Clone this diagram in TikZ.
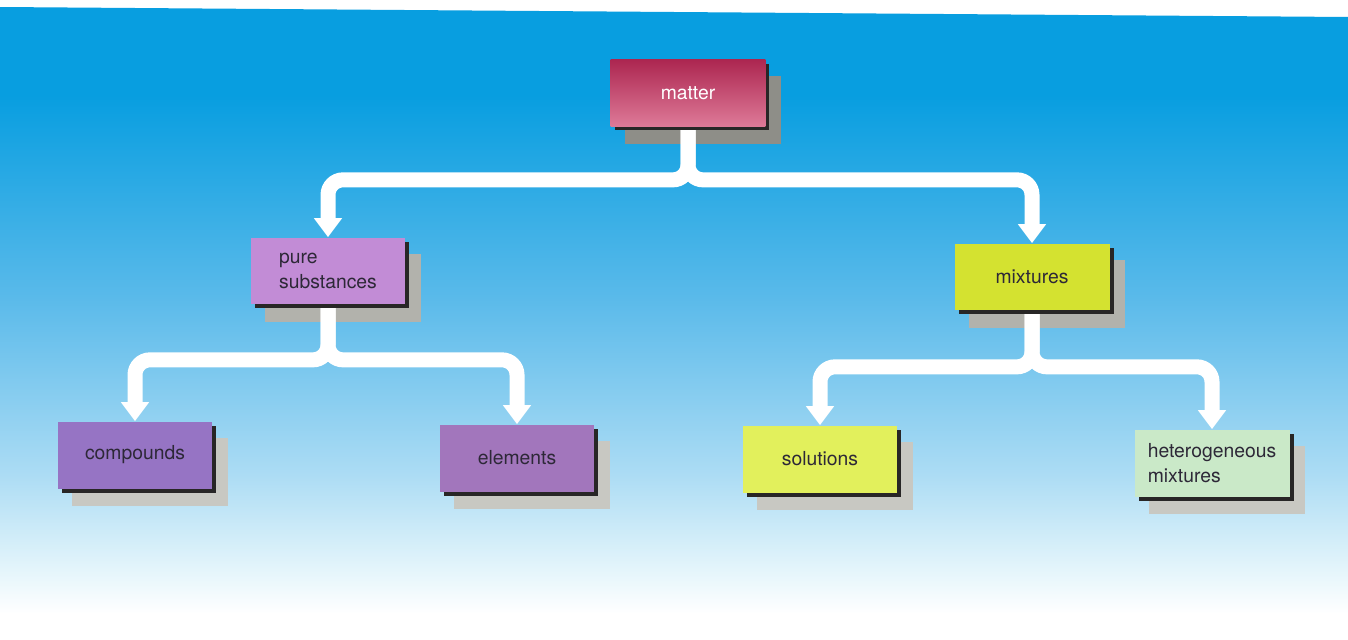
\documentclass[tikz,border=0pt]{standalone}
\usepackage{fontspec}
\setmainfont{TeX Gyre Heros}
\usetikzlibrary{arrows.meta,shadows}
\definecolor{skyd}{RGB}{8,158,224}
\definecolor{skym}{RGB}{90,186,234}
\definecolor{skyl}{RGB}{172,220,244}
\definecolor{skyw}{RGB}{228,245,251}
\definecolor{mattertop}{RGB}{172,38,80}
\definecolor{matterbot}{RGB}{222,122,152}
\definecolor{purec}{RGB}{194,140,214}
\definecolor{mixc}{RGB}{212,226,48}
\definecolor{compc}{RGB}{150,116,196}
\definecolor{elemc}{RGB}{162,118,188}
\definecolor{solc}{RGB}{226,240,92}
\definecolor{hetc}{RGB}{202,233,200}
\definecolor{txtc}{RGB}{45,40,55}
\definecolor{edgec}{RGB}{40,38,38}
\definecolor{shadA}{RGB}{142,142,136}
\definecolor{shadB}{RGB}{178,178,172}
\definecolor{shadC}{RGB}{200,200,194}
\pgfdeclarelayer{bg}
\pgfdeclarelayer{shad}
\pgfdeclarelayer{conn}
\pgfsetlayers{bg,shad,conn,main}
\pgfdeclareverticalshading{skysh}{100bp}{color(0bp)=(white); color(27bp)=(white); color(30.5bp)=(skyw); color(38bp)=(skyl); color(52bp)=(skym); color(68bp)=(skyd); color(100bp)=(skyd)}
\tikzset{
  box/.style={minimum width=3.1cm, minimum height=1.34cm, inner sep=0pt,
    align=left, text=txtc, font=\fontsize{11}{14}\selectfont,
    general shadow={shadow xshift=0.08cm, shadow yshift=-0.08cm, fill=edgec}},
  conn/.style={draw=white, line width=0.3cm, rounded corners=0.3cm,
    -{Triangle[width=0.54cm,length=0.38cm]}},
  shadowbox/.style={fill=#1}
}
\begin{document}
\begin{tikzpicture}[x=0.02cm,y=-0.02cm]
\useasboundingbox (0,0) rectangle (1348,639);
\begin{pgfonlayer}{bg}
  \fill[white] (0,0) rectangle (1348,639);
  \shade[shading=skysh] (0,7) -- (1348,17) -- (1348,639) -- (0,639) -- cycle;
\end{pgfonlayer}
% boxes
\node[box, top color=mattertop, bottom color=matterbot, text=white] (matter) at (688,93) {matter};
\node[box, fill=purec] (pure) at (328,271) {pure\\substances};
\node[box, fill=mixc] (mix) at (1032,277) {mixtures};
\node[box, fill=compc] (comp) at (135,455) {compounds};
\node[box, fill=elemc] (elem) at (517,458) {elements};
\node[box, fill=solc] (sol) at (820,459) {solutions};
\node[box, fill=hetc] (het) at (1212,463) {heterogeneous\\mixtures};
% shadows
\begin{pgfonlayer}{shad}
  \foreach \n/\c in {matter/shadA, pure/shadB, mix/shadB, comp/shadC, elem/shadC, sol/shadC, het/shadC}
    \fill[shadowbox=\c] ([shift={(15,17)}]\n.south west) rectangle ([shift={(15,17)}]\n.north east);
\end{pgfonlayer}
% connectors
\begin{pgfonlayer}{conn}
  \draw[conn] (matter.south) -- ++(0,53) -| (pure.north);
  \draw[conn] (matter.south) -- ++(0,53) -| (mix.north);
  \draw[conn] (pure.south) -- ++(0,55) -| (comp.north);
  \draw[conn] (pure.south) -- ++(0,55) -| (elem.north);
  \draw[conn] (mix.south) -- ++(0,56) -| (sol.north);
  \draw[conn] (mix.south) -- ++(0,56) -| (het.north);
\end{pgfonlayer}
\end{tikzpicture}
\end{document}
